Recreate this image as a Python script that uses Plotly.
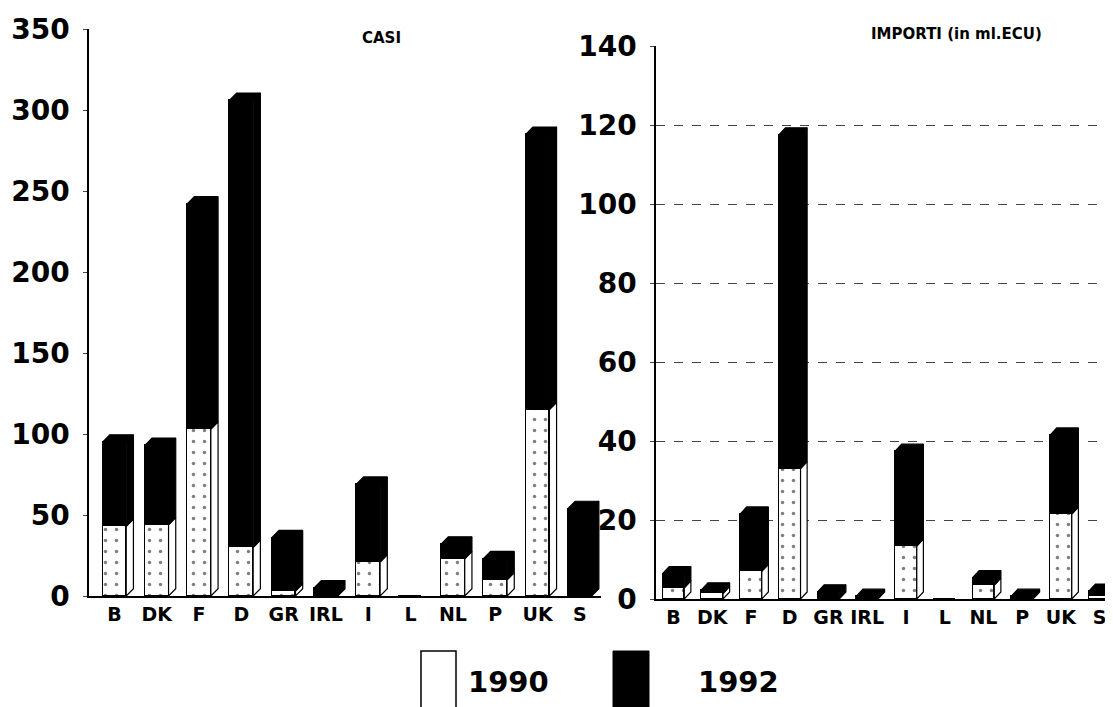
import plotly.graph_objects as go

categories = ["B", "DK", "F", "D", "GR", "IRL", "I", "L", "NL", "P", "UK", "S"]
casi_1990 = [43, 44, 103, 30, 3, 0, 21, 0, 23, 10, 115, 0]
casi_1992 = [52, 49, 139, 276, 33, 5, 48, 0, 9, 13, 170, 54]
importi_1990 = [2.8, 1.4, 7, 33, 0, 0, 13.4, 0, 3.5, 0, 21.5, 0.8]
importi_1992 = [3.6, 0.9, 14.5, 84.5, 1.8, 0.7, 24, 0, 1.9, 0.7, 20, 1.2]

xs = list(range(len(categories)))
W = 0.56      # front face width (category units)
DX = 0.17     # depth offset (category units)

FW, FH = 1113, 707
OFF = 7       # page offset of the figure inside the window
ML, MR, MT, MB = 81, 0, 20, 20
PW, PH = FW - ML - MR, FH - MT - MB


def px(xp):
    return (xp - OFF - ML) / PW


def py(yp):
    return (FH - MB - (yp - OFF)) / PH


fig = go.Figure()


def add_panel(v90, v92, xa, ya, dy):
    fig.add_trace(go.Bar(x=xs, y=v90, width=W, xaxis=xa, yaxis=ya, name="1990",
                         marker=dict(color="white", line=dict(color="black", width=1.5),
                                     pattern=dict(shape=".", fgcolor="black", bgcolor="white",
                                                  size=11, solidity=0.08)),
                         showlegend=False))
    fig.add_trace(go.Bar(x=xs, y=v92, width=W, xaxis=xa, yaxis=ya, name="1992",
                         marker=dict(color="black", line=dict(color="black", width=1.5)),
                         showlegend=False))
    wx, wy, bx, by = [], [], [], []
    for i, (a, b) in enumerate(zip(v90, v92)):
        r = i + W / 2
        l = i - W / 2
        top = a + b
        if top <= 0:
            continue
        if a > 0:
            wx += [r, r + DX, r + DX, r, r, None]
            wy += [0, dy, a + dy, a, 0, None]
        if b > 0:
            bx += [r, r + DX, r + DX, r, r, None]
            by += [a, a + dy, top + dy, top, a, None]
        cx = bx if b > 0 else wx
        cy = by if b > 0 else wy
        cx += [l, l + DX, r + DX, r, l, None]
        cy += [top, top + dy, top + dy, top, top, None]
    fig.add_trace(go.Scatter(x=wx, y=wy, xaxis=xa, yaxis=ya, mode="lines", fill="toself",
                             fillcolor="white", line=dict(color="black", width=1.2),
                             hoverinfo="skip", showlegend=False))
    fig.add_trace(go.Scatter(x=bx, y=by, xaxis=xa, yaxis=ya, mode="lines", fill="toself",
                             fillcolor="black", line=dict(color="black", width=1.2),
                             hoverinfo="skip", showlegend=False))


add_panel(casi_1990, casi_1992, "x", "y", 4.5)
add_panel(importi_1990, importi_1992, "x2", "y2", 1.8)

tickfont_y = dict(family="DejaVu Sans", size=28, color="black", weight="bold")
tickfont_x = dict(family="DejaVu Sans", size=19, color="black", weight="bold")

fig.update_layout(
    width=FW, height=FH,
    margin=dict(l=ML, r=MR, t=MT, b=MB),
    paper_bgcolor="white", plot_bgcolor="white",
    barmode="stack", bargap=0,
    font=dict(family="DejaVu Sans", color="black"),
    xaxis=dict(domain=[0, px(600)], range=[-0.6, 11.5], tickvals=xs, ticktext=categories,
               tickfont=tickfont_x, showline=True, linecolor="black", linewidth=2,
               showgrid=False, ticks="", anchor="y", automargin=False),
    yaxis=dict(domain=[py(595), py(28)], range=[0, 350], dtick=50, tickfont=tickfont_y,
               showline=True, linecolor="black", linewidth=1.5, showgrid=False,
               ticks="outside", ticklen=4, zeroline=False, anchor="x", automargin=False,
               ticklabelstandoff=8),
    xaxis2=dict(domain=[px(655), 1], range=[-0.45, 11.55], tickvals=xs, ticktext=categories,
                tickfont=tickfont_x, showline=True, linecolor="black", linewidth=2,
                showgrid=False, ticks="", anchor="y2", automargin=False),
    yaxis2=dict(domain=[py(598), py(45)], range=[0, 140], dtick=20, tickfont=tickfont_y,
                showline=True, linecolor="black", linewidth=1.5, showgrid=True,
                gridcolor="#444", griddash="dash", gridwidth=1,
                ticks="outside", ticklen=4, zeroline=False, anchor="x2", automargin=False,
                ticklabelstandoff=8),
    annotations=[
        dict(text="<b>CASI</b>", x=px(380), y=py(37), xref="paper", yref="paper",
             xanchor="center", yanchor="middle",
             showarrow=False, font=dict(size=15, family="DejaVu Sans")),
        dict(text="<b>IMPORTI (in ml.ECU)</b>", x=px(955), y=py(33), xref="paper",
             yref="paper", xanchor="center", yanchor="middle",
             showarrow=False, font=dict(size=15, family="DejaVu Sans")),
        dict(text="<b>1990</b>", x=px(507), y=py(681), xref="paper", yref="paper",
             xanchor="center", yanchor="middle",
             showarrow=False, font=dict(size=29, family="DejaVu Sans")),
        dict(text="<b>1992</b>", x=px(737), y=py(681), xref="paper", yref="paper",
             xanchor="center", yanchor="middle",
             showarrow=False, font=dict(size=29, family="DejaVu Sans")),
    ],
    shapes=[
        dict(type="rect", xref="paper", yref="paper", x0=px(420), x1=px(455),
             y0=py(712), y1=py(650), line=dict(color="black", width=1.5),
             fillcolor="white"),
        dict(type="rect", xref="paper", yref="paper", x0=px(612), x1=px(648),
             y0=py(712), y1=py(650), line=dict(color="black", width=1),
             fillcolor="black"),
    ],
)

fig.write_html("out.html")
